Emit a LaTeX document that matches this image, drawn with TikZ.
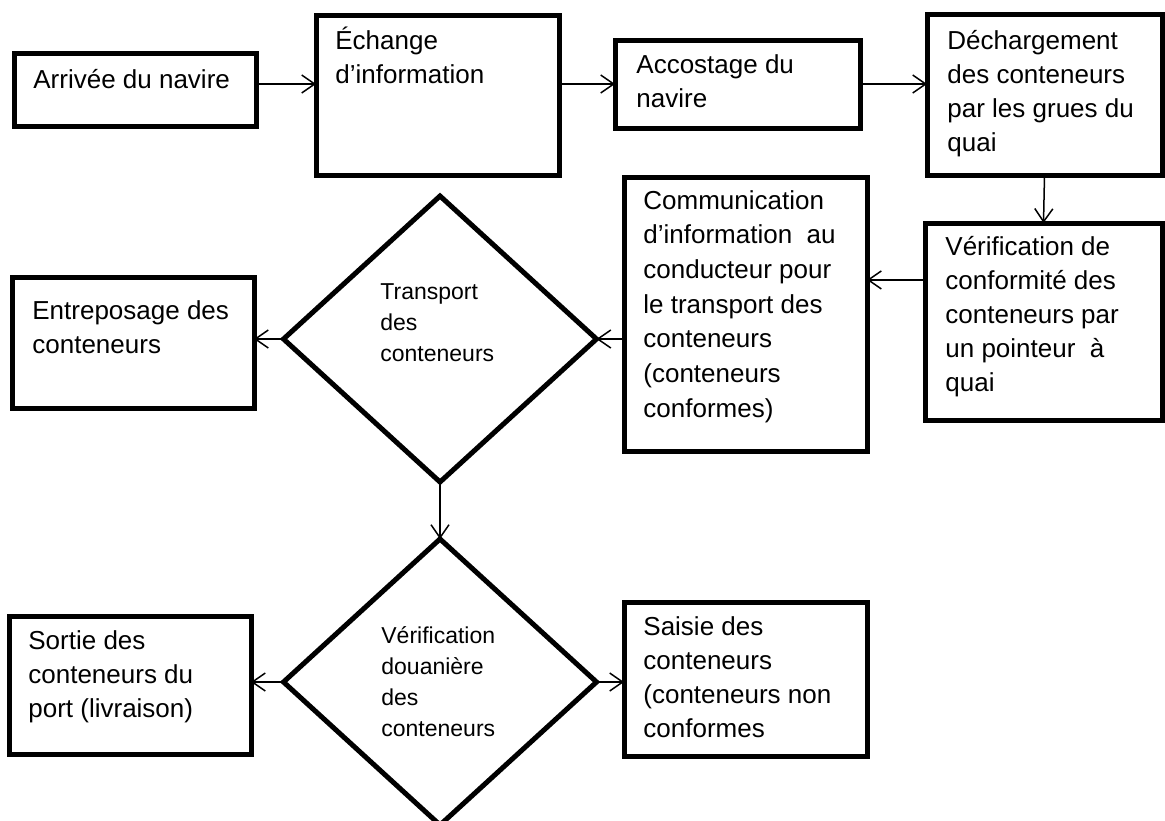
\documentclass[tikz,border=0pt]{standalone}
\usepackage{fontspec}
\setmainfont{Liberation Sans}
\usetikzlibrary{arrows.meta,shapes.geometric,calc}
\newcommand\mylines[1]{\begin{tabular}[t]{@{}l@{}}#1\end{tabular}}
\begin{document}
\begin{tikzpicture}[x=0.5pt,y=-0.5pt,
  box/.style={draw,line width=2.5pt,rectangle,inner sep=0pt,outer sep=0pt,anchor=north west},
  dia/.style={draw,line width=2.5pt,diamond,inner sep=0pt,outer sep=0pt,minimum width=156.5pt,minimum height=143pt},
  txt/.style={anchor=base west,inner sep=0pt,font=\fontsize{13pt}{17pt}\selectfont},
  dtxt/.style={anchor=base west,inner sep=0pt,font=\fontsize{11.5pt}{15.6pt}\selectfont},
  arr/.style={line width=0.75pt,-{Straight Barb[length=6.5pt,width=9pt,line width=0.75pt]}}]
\useasboundingbox (0,0) rectangle (1165,820);
\clip (0,0) rectangle (1165,820);

% boxes
\node[box,minimum width=121pt,minimum height=36.5pt] (b1) at (14,53) {};
\node[box,minimum width=121.5pt,minimum height=80pt] (b2) at (316,15) {};
\node[box,minimum width=122.5pt,minimum height=44pt] (b3) at (615,40) {};
\node[box,minimum width=117.5pt,minimum height=80.5pt] (b4) at (927,14) {};
\node[box,minimum width=118.5pt,minimum height=98.5pt] (b5) at (925,223) {};
\node[box,minimum width=121.5pt,minimum height=137pt] (b6) at (624,177) {};
\node[dia] (d1) at (440,339) {};
\node[box,minimum width=121pt,minimum height=65.5pt] (b8) at (12,277) {};
\node[dia] (d2) at (440,682) {};
\node[box,minimum width=121pt,minimum height=69pt] (b10) at (9,616) {};
\node[box,minimum width=121.5pt,minimum height=77pt] (b11) at (624,602) {};

% texts
\node[txt] (t1) at ($(b1.north west)+(19,35)$) {\mylines{Arrivée du navire}};
\node[txt] (t2) at ($(b2.north west)+(19,34)$) {\mylines{Échange\\d’information}};
\node[txt] (t3) at ($(b3.north west)+(21,33)$) {\mylines{Accostage du\\navire}};
\node[txt] (t4) at ($(b4.north west)+(20,35)$) {\mylines{Déchargement\\des conteneurs\\par les grues du\\quai}};
\node[txt] (t5) at ($(b5.north west)+(20,32)$) {\mylines{Vérification de\\conformité des\\conteneurs par\\un pointeur\ \ à\\quai}};
\node[txt,font=\fontsize{13pt}{17.35pt}\selectfont] (t6) at ($(b6.north west)+(19,32)$) {\mylines{Communication\\d’information\ \ au\\conducteur pour\\le transport des\\conteneurs\\(conteneurs\\conformes)}};
\node[dtxt] (t7) at ($(d1.center)+(-60,-40)$) {\mylines{Transport\\des\\conteneurs}};
\node[txt] (t8) at ($(b8.north west)+(20,42)$) {\mylines{Entreposage des\\conteneurs}};
\node[dtxt] (t9) at ($(d2.center)+(-59,-39)$) {\mylines{Vérification\\douanière\\des\\conteneurs}};
\node[txt] (t10) at ($(b10.north west)+(19,33)$) {\mylines{Sortie des\\conteneurs du\\port (livraison)}};
\node[txt] (t11) at ($(b11.north west)+(19,33)$) {\mylines{Saisie des\\conteneurs\\(conteneurs non\\conformes}};

% connectors
\draw[arr] (b1.east |- b3.west) -- (b3.west -| b2.west);
\draw[arr] (b3.west -| b2.east) -- (b3.west);
\draw[arr] (b3.east) -- (b3.east -| b4.west);
\draw[arr] (b4.south) -- (b5.north);
\coordinate (p56) at ($(b5.north west)!0.289!(b5.south west)$);
\draw[arr] (p56) -- (p56 -| b6.east);
\draw[arr] (d1.east -| b6.west) -- (d1.east);
\draw[arr] (d1.west) -- (d1.west -| b8.east);
\draw[arr] (d1.south) -- (d2.north);
\draw[arr] (d2.west) -- (d2.west -| b10.east);
\draw[arr] (d2.east) -- (d2.east -| b11.west);
\end{tikzpicture}
\end{document}
